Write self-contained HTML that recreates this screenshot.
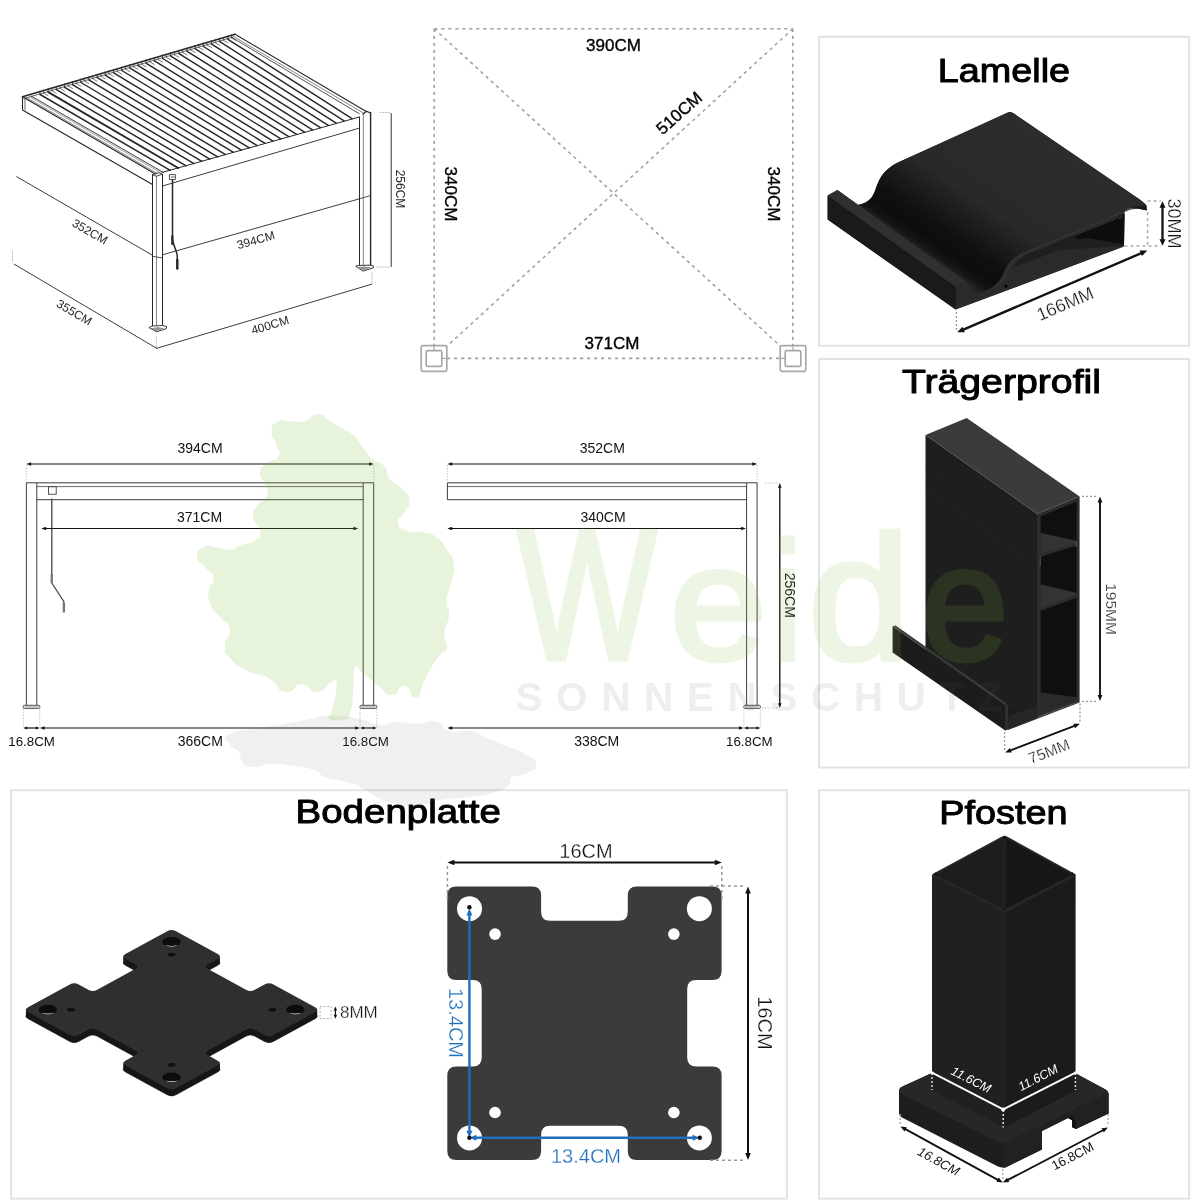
<!DOCTYPE html>
<html lang="de"><head><meta charset="utf-8">
<style>
html,body{margin:0;padding:0;background:#fff;}
body{width:1200px;height:1200px;overflow:hidden;font-family:"Liberation Sans",sans-serif;}
svg{display:block;will-change:transform;}
svg text{font-family:"Liberation Sans",sans-serif;}
</style></head><body>
<svg width="1200" height="1200" viewBox="0 0 1200 1200">
<rect width="1200" height="1200" fill="#fff"/>
<g id="pergola3d" stroke-linecap="round" stroke-linejoin="round">
<line x1="16.7" y1="176.7" x2="155" y2="256.7" stroke="#2a2624" stroke-width="0.9" />
<line x1="14.2" y1="264.2" x2="156.7" y2="348.3" stroke="#2a2624" stroke-width="0.9" />
<line x1="156.7" y1="348.3" x2="371.7" y2="284.2" stroke="#2a2624" stroke-width="0.9" />
<line x1="162.5" y1="254.8" x2="370" y2="195.8" stroke="#2a2624" stroke-width="0.9" />
<line x1="12.5" y1="251" x2="12.5" y2="262" stroke="#aaa" stroke-width="0.8" stroke-dasharray="1.2 1.6"/>
<line x1="156.3" y1="337" x2="156.3" y2="347" stroke="#aaa" stroke-width="0.8" stroke-dasharray="1.2 1.6"/>
<line x1="372" y1="273" x2="372" y2="283" stroke="#aaa" stroke-width="0.8" stroke-dasharray="1.2 1.6"/>
<line x1="377" y1="267" x2="389" y2="267" stroke="#aaa" stroke-width="0.8" stroke-dasharray="1.2 1.6"/>
<line x1="380" y1="112.5" x2="390" y2="112.5" stroke="#aaa" stroke-width="0.8" stroke-dasharray="1.2 1.6"/>
<line x1="391.2" y1="113.5" x2="391.2" y2="266.5" stroke="#2a2624" stroke-width="0.95" />
<polygon points="22.5,96.7 235,34.2 366.7,111.7 366.7,124 162.5,186 152.5,185 22.5,110" fill="#fff" stroke="none" stroke-width="0" />
<line x1="40.1" y1="94.5" x2="170.3" y2="170.3" stroke="#2a2624" stroke-width="1.45" />
<line x1="39.9" y1="91.1" x2="39.9" y2="94.5" stroke="#2a2624" stroke-width="0.8" />
<line x1="43.5" y1="90.1" x2="43.7" y2="93.1" stroke="#5a5450" stroke-width="0.7" />
<line x1="43.7" y1="93.1" x2="48.1" y2="95.7" stroke="#5a5450" stroke-width="0.8" />
<line x1="48.27" y1="92.1" x2="178.2" y2="168.05" stroke="#2a2624" stroke-width="1.9" />
<line x1="48.07" y1="88.7" x2="48.07" y2="92.1" stroke="#2a2624" stroke-width="0.8" />
<line x1="51.67" y1="87.7" x2="51.87" y2="90.7" stroke="#5a5450" stroke-width="0.7" />
<line x1="51.87" y1="90.7" x2="56.27" y2="93.3" stroke="#5a5450" stroke-width="0.8" />
<line x1="56.44" y1="89.7" x2="186.1" y2="165.8" stroke="#2a2624" stroke-width="1.45" />
<line x1="56.24" y1="86.3" x2="56.24" y2="89.7" stroke="#2a2624" stroke-width="0.8" />
<line x1="59.84" y1="85.3" x2="60.04" y2="88.3" stroke="#5a5450" stroke-width="0.7" />
<line x1="60.04" y1="88.3" x2="64.44" y2="90.9" stroke="#5a5450" stroke-width="0.8" />
<line x1="64.61" y1="87.3" x2="194" y2="163.56" stroke="#2a2624" stroke-width="1.45" />
<line x1="64.41" y1="83.9" x2="64.41" y2="87.3" stroke="#2a2624" stroke-width="0.8" />
<line x1="68.01" y1="82.9" x2="68.21" y2="85.9" stroke="#5a5450" stroke-width="0.7" />
<line x1="68.21" y1="85.9" x2="72.61" y2="88.5" stroke="#5a5450" stroke-width="0.8" />
<line x1="72.78" y1="84.9" x2="201.9" y2="161.31" stroke="#2a2624" stroke-width="1.45" />
<line x1="72.58" y1="81.5" x2="72.58" y2="84.9" stroke="#2a2624" stroke-width="0.8" />
<line x1="76.18" y1="80.5" x2="76.38" y2="83.5" stroke="#5a5450" stroke-width="0.7" />
<line x1="76.38" y1="83.5" x2="80.78" y2="86.1" stroke="#5a5450" stroke-width="0.8" />
<line x1="80.95" y1="82.5" x2="209.8" y2="159.06" stroke="#2a2624" stroke-width="1.45" />
<line x1="80.75" y1="79.1" x2="80.75" y2="82.5" stroke="#2a2624" stroke-width="0.8" />
<line x1="84.35" y1="78.1" x2="84.55" y2="81.1" stroke="#5a5450" stroke-width="0.7" />
<line x1="84.55" y1="81.1" x2="88.95" y2="83.7" stroke="#5a5450" stroke-width="0.8" />
<line x1="89.12" y1="80.1" x2="217.7" y2="156.81" stroke="#2a2624" stroke-width="1.45" />
<line x1="88.92" y1="76.7" x2="88.92" y2="80.1" stroke="#2a2624" stroke-width="0.8" />
<line x1="92.52" y1="75.7" x2="92.72" y2="78.7" stroke="#5a5450" stroke-width="0.7" />
<line x1="92.72" y1="78.7" x2="97.12" y2="81.3" stroke="#5a5450" stroke-width="0.8" />
<line x1="97.29" y1="77.7" x2="225.6" y2="154.57" stroke="#2a2624" stroke-width="1.45" />
<line x1="97.09" y1="74.3" x2="97.09" y2="77.7" stroke="#2a2624" stroke-width="0.8" />
<line x1="100.69" y1="73.3" x2="100.89" y2="76.3" stroke="#5a5450" stroke-width="0.7" />
<line x1="100.89" y1="76.3" x2="105.29" y2="78.9" stroke="#5a5450" stroke-width="0.8" />
<line x1="105.46" y1="75.3" x2="233.5" y2="152.32" stroke="#2a2624" stroke-width="1.45" />
<line x1="105.26" y1="71.9" x2="105.26" y2="75.3" stroke="#2a2624" stroke-width="0.8" />
<line x1="108.86" y1="70.9" x2="109.06" y2="73.9" stroke="#5a5450" stroke-width="0.7" />
<line x1="109.06" y1="73.9" x2="113.46" y2="76.5" stroke="#5a5450" stroke-width="0.8" />
<line x1="113.63" y1="72.9" x2="241.4" y2="150.07" stroke="#2a2624" stroke-width="1.45" />
<line x1="113.43" y1="69.5" x2="113.43" y2="72.9" stroke="#2a2624" stroke-width="0.8" />
<line x1="117.03" y1="68.5" x2="117.23" y2="71.5" stroke="#5a5450" stroke-width="0.7" />
<line x1="117.23" y1="71.5" x2="121.63" y2="74.1" stroke="#5a5450" stroke-width="0.8" />
<line x1="121.8" y1="70.5" x2="249.3" y2="147.82" stroke="#2a2624" stroke-width="1.45" />
<line x1="121.6" y1="67.1" x2="121.6" y2="70.5" stroke="#2a2624" stroke-width="0.8" />
<line x1="125.2" y1="66.1" x2="125.4" y2="69.1" stroke="#5a5450" stroke-width="0.7" />
<line x1="125.4" y1="69.1" x2="129.8" y2="71.7" stroke="#5a5450" stroke-width="0.8" />
<line x1="129.97" y1="68.1" x2="257.2" y2="145.57" stroke="#2a2624" stroke-width="1.45" />
<line x1="129.77" y1="64.7" x2="129.77" y2="68.1" stroke="#2a2624" stroke-width="0.8" />
<line x1="133.37" y1="63.7" x2="133.57" y2="66.7" stroke="#5a5450" stroke-width="0.7" />
<line x1="133.57" y1="66.7" x2="137.97" y2="69.3" stroke="#5a5450" stroke-width="0.8" />
<line x1="138.13" y1="65.7" x2="265.1" y2="143.33" stroke="#2a2624" stroke-width="1.45" />
<line x1="137.93" y1="62.3" x2="137.93" y2="65.7" stroke="#2a2624" stroke-width="0.8" />
<line x1="141.53" y1="61.3" x2="141.73" y2="64.3" stroke="#5a5450" stroke-width="0.7" />
<line x1="141.73" y1="64.3" x2="146.13" y2="66.9" stroke="#5a5450" stroke-width="0.8" />
<line x1="146.3" y1="63.3" x2="273" y2="141.08" stroke="#2a2624" stroke-width="1.45" />
<line x1="146.1" y1="59.9" x2="146.1" y2="63.3" stroke="#2a2624" stroke-width="0.8" />
<line x1="149.7" y1="58.9" x2="149.9" y2="61.9" stroke="#5a5450" stroke-width="0.7" />
<line x1="149.9" y1="61.9" x2="154.3" y2="64.5" stroke="#5a5450" stroke-width="0.8" />
<line x1="154.47" y1="60.9" x2="280.9" y2="138.83" stroke="#2a2624" stroke-width="1.45" />
<line x1="154.27" y1="57.5" x2="154.27" y2="60.9" stroke="#2a2624" stroke-width="0.8" />
<line x1="157.87" y1="56.5" x2="158.07" y2="59.5" stroke="#5a5450" stroke-width="0.7" />
<line x1="158.07" y1="59.5" x2="162.47" y2="62.1" stroke="#5a5450" stroke-width="0.8" />
<line x1="162.64" y1="58.5" x2="288.8" y2="136.58" stroke="#2a2624" stroke-width="1.45" />
<line x1="162.44" y1="55.1" x2="162.44" y2="58.5" stroke="#2a2624" stroke-width="0.8" />
<line x1="166.04" y1="54.1" x2="166.24" y2="57.1" stroke="#5a5450" stroke-width="0.7" />
<line x1="166.24" y1="57.1" x2="170.64" y2="59.7" stroke="#5a5450" stroke-width="0.8" />
<line x1="170.81" y1="56.1" x2="296.7" y2="134.33" stroke="#2a2624" stroke-width="1.45" />
<line x1="170.61" y1="52.7" x2="170.61" y2="56.1" stroke="#2a2624" stroke-width="0.8" />
<line x1="174.21" y1="51.7" x2="174.41" y2="54.7" stroke="#5a5450" stroke-width="0.7" />
<line x1="174.41" y1="54.7" x2="178.81" y2="57.3" stroke="#5a5450" stroke-width="0.8" />
<line x1="178.98" y1="53.7" x2="304.6" y2="132.09" stroke="#2a2624" stroke-width="1.45" />
<line x1="178.78" y1="50.3" x2="178.78" y2="53.7" stroke="#2a2624" stroke-width="0.8" />
<line x1="182.38" y1="49.3" x2="182.58" y2="52.3" stroke="#5a5450" stroke-width="0.7" />
<line x1="182.58" y1="52.3" x2="186.98" y2="54.9" stroke="#5a5450" stroke-width="0.8" />
<line x1="187.15" y1="51.3" x2="312.5" y2="129.84" stroke="#2a2624" stroke-width="1.45" />
<line x1="186.95" y1="47.9" x2="186.95" y2="51.3" stroke="#2a2624" stroke-width="0.8" />
<line x1="190.55" y1="46.9" x2="190.75" y2="49.9" stroke="#5a5450" stroke-width="0.7" />
<line x1="190.75" y1="49.9" x2="195.15" y2="52.5" stroke="#5a5450" stroke-width="0.8" />
<line x1="195.32" y1="48.9" x2="320.4" y2="127.59" stroke="#2a2624" stroke-width="1.45" />
<line x1="195.12" y1="45.5" x2="195.12" y2="48.9" stroke="#2a2624" stroke-width="0.8" />
<line x1="198.72" y1="44.5" x2="198.92" y2="47.5" stroke="#5a5450" stroke-width="0.7" />
<line x1="198.92" y1="47.5" x2="203.32" y2="50.1" stroke="#5a5450" stroke-width="0.8" />
<line x1="203.49" y1="46.5" x2="328.3" y2="125.34" stroke="#2a2624" stroke-width="1.45" />
<line x1="203.29" y1="43.1" x2="203.29" y2="46.5" stroke="#2a2624" stroke-width="0.8" />
<line x1="206.89" y1="42.1" x2="207.09" y2="45.1" stroke="#5a5450" stroke-width="0.7" />
<line x1="207.09" y1="45.1" x2="211.49" y2="47.7" stroke="#5a5450" stroke-width="0.8" />
<line x1="211.66" y1="44.1" x2="336.2" y2="123.1" stroke="#2a2624" stroke-width="1.45" />
<line x1="211.46" y1="40.7" x2="211.46" y2="44.1" stroke="#2a2624" stroke-width="0.8" />
<line x1="215.06" y1="39.7" x2="215.26" y2="42.7" stroke="#5a5450" stroke-width="0.7" />
<line x1="215.26" y1="42.7" x2="219.66" y2="45.3" stroke="#5a5450" stroke-width="0.8" />
<line x1="219.83" y1="41.7" x2="344.1" y2="120.85" stroke="#2a2624" stroke-width="1.45" />
<line x1="219.63" y1="38.3" x2="219.63" y2="41.7" stroke="#2a2624" stroke-width="0.8" />
<line x1="223.23" y1="37.3" x2="223.43" y2="40.3" stroke="#5a5450" stroke-width="0.7" />
<line x1="223.43" y1="40.3" x2="227.83" y2="42.9" stroke="#5a5450" stroke-width="0.8" />
<line x1="228" y1="39.3" x2="352" y2="118.6" stroke="#2a2624" stroke-width="1.45" />
<line x1="227.8" y1="35.9" x2="227.8" y2="39.3" stroke="#2a2624" stroke-width="0.8" />
<line x1="231.4" y1="34.9" x2="231.6" y2="37.9" stroke="#5a5450" stroke-width="0.7" />
<line x1="231.6" y1="37.9" x2="236" y2="40.5" stroke="#5a5450" stroke-width="0.8" />
<line x1="31.5" y1="96.2" x2="163.5" y2="172.6" stroke="#2a2624" stroke-width="0.9" />
<polyline points="22.5,96.7 235,34.2" fill="none" stroke="#2a2624" stroke-width="1.6" />
<polyline points="24,98.6 233,37" fill="none" stroke="#2a2624" stroke-width="0.7" />
<polyline points="22.5,96.7 22.5,110 152.5,184.5" fill="none" stroke="#2a2624" stroke-width="1.1" />
<polyline points="22.5,96.7 155.8,174.2" fill="none" stroke="#2a2624" stroke-width="1.1" />
<polyline points="26,97.3 158.5,174.2" fill="none" stroke="#6a6460" stroke-width="0.8" />
<polyline points="25,98.5 25,109.5" fill="none" stroke="#2a2624" stroke-width="0.7" />
<polyline points="29,96.4 161.5,173.2" fill="none" stroke="#8a8480" stroke-width="0.8" />
<polyline points="235,34.2 366.7,111.7" fill="none" stroke="#2a2624" stroke-width="1.1" />
<polyline points="233.5,36.5 363.5,113" fill="none" stroke="#6a6460" stroke-width="0.8" />
<polyline points="231.5,37.2 360.5,114.5" fill="none" stroke="#2a2624" stroke-width="0.8" />
<polyline points="162.5,172.3 360,116.8" fill="none" stroke="#2a2624" stroke-width="1.0" />
<polyline points="162.5,186 359,128.2" fill="none" stroke="#2a2624" stroke-width="0.9" />
<rect x="152.5" y="174.5" width="10" height="154" fill="#fff" stroke="none"/>
<polyline points="152.5,174.5 152.5,328.3" fill="none" stroke="#2a2624" stroke-width="1.0" />
<polyline points="162.5,174.5 162.5,328.3" fill="none" stroke="#2a2624" stroke-width="1.0" />
<polyline points="156.5,176 156.5,328.3" fill="none" stroke="#6a6460" stroke-width="0.8" />
<polyline points="152.5,174.8 156.3,176.3 162.5,174.2 158.6,172.6 152.5,174.8" fill="none" stroke="#2a2624" stroke-width="0.8" />
<rect x="359.5" y="113" width="11" height="153" fill="#fff" stroke="none"/>
<polyline points="359.5,117 359.5,266.5" fill="none" stroke="#2a2624" stroke-width="1.0" />
<polyline points="370.6,112.5 370.6,266.5" fill="none" stroke="#2a2624" stroke-width="1.4" />
<polyline points="363.3,114 363.3,267" fill="none" stroke="#6a6460" stroke-width="0.8" />
<polyline points="363,114 366.5,111.2 370,112.8" fill="none" stroke="#2a2624" stroke-width="1.2" />
<line x1="152.5" y1="256.3" x2="162.5" y2="258" stroke="#2a2624" stroke-width="0.8" />
<line x1="359.3" y1="198.8" x2="370" y2="195.8" stroke="#2a2624" stroke-width="0.8" />
<polygon points="149.3,327.8 156.5,331.8 166.5,328.6 166.5,326.5 162.5,325.5 152.5,326" fill="#fff" stroke="#2a2624" stroke-width="0.9" />
<polygon points="150.5,328.3 156.5,331.2 164.5,328.6 158,327" fill="#9a9590" stroke="none" stroke-width="0" />
<polygon points="356,266.4 363,271.2 373.4,267.8 373.4,266 370.6,265.2 359.5,265.4" fill="#fff" stroke="#2a2624" stroke-width="0.9" />
<polygon points="357.5,267 363,270.4 371.5,267.6 365,266.4" fill="#9a9590" stroke="none" stroke-width="0" />
<rect x="169.8" y="174.6" width="5.6" height="5" fill="#fff" stroke="#2a2624" stroke-width="0.8"/>
<line x1="171" y1="177" x2="174.5" y2="177" stroke="#2a2624" stroke-width="0.7" />
<path d="M172.5 179.8 L172.5 238 C172.5 246 177.3 250 177.3 257 L177.3 268.5" fill="none" stroke="#2a2624" stroke-width="1.5"/>
<line x1="172.3" y1="236" x2="172.3" y2="244" stroke="#2a2624" stroke-width="2.2" />
<line x1="177.3" y1="260" x2="177.3" y2="268.5" stroke="#2a2624" stroke-width="2.4" />
<text font-size="12" fill="#2a2624" font-weight="normal" text-anchor="middle" transform="translate(90 231.5) rotate(30)" x="0" y="4.2" >352CM</text>
<text font-size="12" fill="#2a2624" font-weight="normal" text-anchor="middle" transform="translate(74.3 312.3) rotate(30.5)" x="0" y="4.2" >355CM</text>
<text font-size="12" fill="#2a2624" font-weight="normal" text-anchor="middle" transform="translate(255.8 240) rotate(-16)" x="0" y="4.2" >394CM</text>
<text font-size="12" fill="#2a2624" font-weight="normal" text-anchor="middle" transform="translate(270 325) rotate(-16.6)" x="0" y="4.2" >400CM</text>
<text font-size="12" fill="#2a2624" font-weight="normal" text-anchor="middle" transform="translate(400.5 189) rotate(90)" x="0" y="4.2" >256CM</text>
</g>
<g id="plan">
<line x1="434.2" y1="28.8" x2="792.8" y2="28.8" stroke="#a2a2a2" stroke-width="1.6" stroke-dasharray="3.3 3.7"/>
<line x1="434.2" y1="28.8" x2="434.2" y2="346" stroke="#a2a2a2" stroke-width="1.6" stroke-dasharray="3.3 3.7"/>
<line x1="792.8" y1="28.8" x2="792.8" y2="346" stroke="#a2a2a2" stroke-width="1.6" stroke-dasharray="3.3 3.7"/>
<line x1="447" y1="358.4" x2="780" y2="358.4" stroke="#a2a2a2" stroke-width="1.6" stroke-dasharray="3.3 3.7"/>
<line x1="434.2" y1="28.8" x2="783" y2="348.5" stroke="#a2a2a2" stroke-width="1.6" stroke-dasharray="3.3 3.7"/>
<line x1="792.8" y1="28.8" x2="444.5" y2="348.5" stroke="#a2a2a2" stroke-width="1.6" stroke-dasharray="3.3 3.7"/>
<rect x="421.2" y="345.7" width="25.6" height="25.6" rx="1.6" fill="#fff" stroke="#a8a8a8" stroke-width="1.7"/>
<rect x="426.2" y="350.7" width="15.6" height="15.6" rx="1.4" fill="#fff" stroke="#a8a8a8" stroke-width="1.7"/>
<line x1="434" y1="346" x2="434" y2="350.5" stroke="#9a9a9a" stroke-width="1.0" />
<rect x="780.2" y="345.7" width="25.6" height="25.6" rx="1.6" fill="#fff" stroke="#a8a8a8" stroke-width="1.7"/>
<rect x="785.2" y="350.7" width="15.6" height="15.6" rx="1.4" fill="#fff" stroke="#a8a8a8" stroke-width="1.7"/>
<line x1="793" y1="346" x2="793" y2="350.5" stroke="#9a9a9a" stroke-width="1.0" />
<line x1="441.5" y1="358.4" x2="446" y2="358.4" stroke="#9a9a9a" stroke-width="1.0" />
<line x1="780.5" y1="358.4" x2="785" y2="358.4" stroke="#9a9a9a" stroke-width="1.0" />
<text x="613.5" y="50.8" font-size="17" fill="#000" font-weight="normal" text-anchor="middle" stroke="#000" stroke-width="0.35">390CM</text>
<text x="612" y="349.3" font-size="17" fill="#000" font-weight="normal" text-anchor="middle" stroke="#000" stroke-width="0.35">371CM</text>
<text font-size="17" fill="#000" font-weight="normal" text-anchor="middle" transform="translate(451 194) rotate(90)" x="0" y="5.95" stroke="#000" stroke-width="0.35">340CM</text>
<text font-size="17" fill="#000" font-weight="normal" text-anchor="middle" transform="translate(773.5 194) rotate(90)" x="0" y="5.95" stroke="#000" stroke-width="0.35">340CM</text>
<text font-size="17" fill="#000" font-weight="normal" text-anchor="middle" transform="translate(679 113) rotate(-41.5)" x="0" y="5.95" stroke="#000" stroke-width="0.35">510CM</text>
</g>
<g id="elev">
<line x1="26.3" y1="482.8" x2="373.8" y2="482.8" stroke="#2a2624" stroke-width="0.9" />
<line x1="36.8" y1="499.7" x2="363.2" y2="499.7" stroke="#2a2624" stroke-width="0.9" />
<line x1="36.8" y1="486.6" x2="363" y2="486.6" stroke="#2a2624" stroke-width="0.7" />
<line x1="26.4" y1="482.8" x2="26.4" y2="705.3" stroke="#2a2624" stroke-width="0.9" />
<line x1="36.8" y1="482.8" x2="36.8" y2="705.3" stroke="#2a2624" stroke-width="0.9" />
<line x1="363.2" y1="482.8" x2="363.2" y2="705.3" stroke="#2a2624" stroke-width="0.9" />
<line x1="373.7" y1="482.8" x2="373.7" y2="705.3" stroke="#2a2624" stroke-width="0.9" />
<rect x="23.2" y="705.3" width="16.6" height="3.1" rx="1" fill="#fff" stroke="#2a2624" stroke-width="0.8"/>
<rect x="360" y="705.3" width="16.8" height="3.1" rx="1" fill="#fff" stroke="#2a2624" stroke-width="0.8"/>
<line x1="24.4" y1="706.9" x2="38.6" y2="706.9" stroke="#999" stroke-width="1.0" />
<line x1="361.2" y1="706.9" x2="375.6" y2="706.9" stroke="#999" stroke-width="1.0" />
<rect x="48.6" y="486.8" width="7.6" height="7.4" fill="#fff" stroke="#2a2624" stroke-width="0.8"/>
<path d="M51.8 498.5 L51.8 583 L63.8 601.5 L63.8 612.3" fill="none" stroke="#4a4644" stroke-width="1.3" stroke-linejoin="round"/>
<line x1="51.7" y1="574" x2="51.7" y2="583" stroke="#777" stroke-width="2.2" />
<line x1="63.9" y1="603" x2="63.9" y2="612.3" stroke="#777" stroke-width="2.4" />
<line x1="29.18" y1="464" x2="370.92" y2="464" stroke="#111" stroke-width="1.2" />
<polygon points="26.3,464 31.1,462.27 31.1,465.73" fill="#111" stroke="none" stroke-width="0" />
<polygon points="373.8,464 369,465.73 369,462.27" fill="#111" stroke="none" stroke-width="0" />
<line x1="44.18" y1="528.5" x2="355.32" y2="528.5" stroke="#111" stroke-width="1.2" />
<polygon points="41.3,528.5 46.1,526.77 46.1,530.23" fill="#111" stroke="none" stroke-width="0" />
<polygon points="358.2,528.5 353.4,530.23 353.4,526.77" fill="#111" stroke="none" stroke-width="0" />
<line x1="25.6" y1="728" x2="37.4" y2="728" stroke="#111" stroke-width="1.2" />
<polygon points="23.2,728 27.2,726.56 27.2,729.44" fill="#111" stroke="none" stroke-width="0" />
<polygon points="39.8,728 35.8,729.44 35.8,726.56" fill="#111" stroke="none" stroke-width="0" />
<line x1="42.68" y1="728" x2="357.12" y2="728" stroke="#111" stroke-width="1.2" />
<polygon points="39.8,728 44.6,726.27 44.6,729.73" fill="#111" stroke="none" stroke-width="0" />
<polygon points="360,728 355.2,729.73 355.2,726.27" fill="#111" stroke="none" stroke-width="0" />
<line x1="362.4" y1="728" x2="374.4" y2="728" stroke="#111" stroke-width="1.2" />
<polygon points="360,728 364,726.56 364,729.44" fill="#111" stroke="none" stroke-width="0" />
<polygon points="376.8,728 372.8,729.44 372.8,726.56" fill="#111" stroke="none" stroke-width="0" />
<line x1="26.3" y1="465" x2="26.3" y2="482" stroke="#aaa" stroke-width="0.8" stroke-dasharray="1.2 1.6"/>
<line x1="373.8" y1="465" x2="373.8" y2="482" stroke="#aaa" stroke-width="0.8" stroke-dasharray="1.2 1.6"/>
<line x1="23.4" y1="709.5" x2="23.4" y2="727" stroke="#aaa" stroke-width="0.8" stroke-dasharray="1.2 1.6"/>
<line x1="39.7" y1="709.5" x2="39.7" y2="727" stroke="#aaa" stroke-width="0.8" stroke-dasharray="1.2 1.6"/>
<line x1="360" y1="709.5" x2="360" y2="727" stroke="#aaa" stroke-width="0.8" stroke-dasharray="1.2 1.6"/>
<line x1="376.8" y1="709.5" x2="376.8" y2="727" stroke="#aaa" stroke-width="0.8" stroke-dasharray="1.2 1.6"/>
<text x="200" y="453.4" font-size="14" fill="#111" font-weight="normal" text-anchor="middle" >394CM</text>
<text x="199.5" y="521.6" font-size="14" fill="#111" font-weight="normal" text-anchor="middle" >371CM</text>
<text x="31.6" y="746.2" font-size="13.3" fill="#111" font-weight="normal" text-anchor="middle" >16.8CM</text>
<text x="200.3" y="746.2" font-size="14" fill="#111" font-weight="normal" text-anchor="middle" >366CM</text>
<text x="365.6" y="746.2" font-size="13.3" fill="#111" font-weight="normal" text-anchor="middle" >16.8CM</text>
<path d="M746.6 482.8 L447.4 482.8 L447.4 499.7 L746.6 499.7" fill="none" stroke="#2a2624" stroke-width="0.9"/>
<line x1="447.4" y1="486.6" x2="746.5" y2="486.6" stroke="#2a2624" stroke-width="0.7" />
<path d="M746.6 705.3 L746.6 482.8 L757.1 482.8 L757.1 705.3" fill="none" stroke="#2a2624" stroke-width="0.9"/>
<rect x="743.8" y="705.3" width="16.6" height="3.1" rx="1" fill="#fff" stroke="#2a2624" stroke-width="0.8"/>
<line x1="745" y1="706.9" x2="759.2" y2="706.9" stroke="#999" stroke-width="1.0" />
<line x1="450.28" y1="464" x2="754.32" y2="464" stroke="#111" stroke-width="1.2" />
<polygon points="447.4,464 452.2,462.27 452.2,465.73" fill="#111" stroke="none" stroke-width="0" />
<polygon points="757.2,464 752.4,465.73 752.4,462.27" fill="#111" stroke="none" stroke-width="0" />
<line x1="450.28" y1="528.5" x2="743.12" y2="528.5" stroke="#111" stroke-width="1.2" />
<polygon points="447.4,528.5 452.2,526.77 452.2,530.23" fill="#111" stroke="none" stroke-width="0" />
<polygon points="746,528.5 741.2,530.23 741.2,526.77" fill="#111" stroke="none" stroke-width="0" />
<line x1="450.28" y1="728" x2="740.92" y2="728" stroke="#111" stroke-width="1.2" />
<polygon points="447.4,728 452.2,726.27 452.2,729.73" fill="#111" stroke="none" stroke-width="0" />
<polygon points="743.8,728 739,729.73 739,726.27" fill="#111" stroke="none" stroke-width="0" />
<line x1="746.2" y1="728" x2="758" y2="728" stroke="#111" stroke-width="1.2" />
<polygon points="743.8,728 747.8,726.56 747.8,729.44" fill="#111" stroke="none" stroke-width="0" />
<polygon points="760.4,728 756.4,729.44 756.4,726.56" fill="#111" stroke="none" stroke-width="0" />
<line x1="779.8" y1="485.88" x2="779.8" y2="705.12" stroke="#111" stroke-width="1.35" />
<polygon points="779.8,483 781.55,487.8 778.05,487.8" fill="#111" stroke="none" stroke-width="0" />
<polygon points="779.8,708 778.05,703.2 781.55,703.2" fill="#111" stroke="none" stroke-width="0" />
<line x1="447.4" y1="465" x2="447.4" y2="482" stroke="#aaa" stroke-width="0.8" stroke-dasharray="1.2 1.6"/>
<line x1="757.2" y1="465" x2="757.2" y2="482" stroke="#aaa" stroke-width="0.8" stroke-dasharray="1.2 1.6"/>
<line x1="765" y1="483" x2="779" y2="483" stroke="#aaa" stroke-width="0.8" stroke-dasharray="1.2 1.6"/>
<line x1="762" y1="708" x2="779" y2="708" stroke="#aaa" stroke-width="0.8" stroke-dasharray="1.2 1.6"/>
<line x1="743.9" y1="709.5" x2="743.9" y2="727" stroke="#aaa" stroke-width="0.8" stroke-dasharray="1.2 1.6"/>
<line x1="760.3" y1="709.5" x2="760.3" y2="727" stroke="#aaa" stroke-width="0.8" stroke-dasharray="1.2 1.6"/>
<text x="602.3" y="453.4" font-size="14" fill="#111" font-weight="normal" text-anchor="middle" >352CM</text>
<text x="603" y="521.6" font-size="14" fill="#111" font-weight="normal" text-anchor="middle" >340CM</text>
<text x="596.7" y="746.2" font-size="14" fill="#111" font-weight="normal" text-anchor="middle" >338CM</text>
<text x="749.3" y="746.2" font-size="13.3" fill="#111" font-weight="normal" text-anchor="middle" >16.8CM</text>
<text font-size="14" fill="#111" font-weight="normal" text-anchor="middle" transform="translate(790.2 595.3) rotate(90)" x="0" y="4.9" >256CM</text>
</g>
<rect x="819" y="36.8" width="370.2" height="309" fill="#fff" stroke="#e3e3e3" stroke-width="2"/>
<g id="lamelle">
<text x="937.8" y="81.8" font-size="33.5" fill="#000" stroke="#000" stroke-width="1" stroke-linejoin="round" textLength="132.23" lengthAdjust="spacingAndGlyphs">Lamelle</text>
<defs><linearGradient id="lamTop" gradientUnits="userSpaceOnUse" x1="966" y1="281.8" x2="1059.7" y2="146"><stop offset="0" stop-color="#222"/><stop offset="0.04" stop-color="#131313"/><stop offset="0.09" stop-color="#0d0d0d"/><stop offset="0.18" stop-color="#101010"/><stop offset="0.32" stop-color="#1d1d1d"/><stop offset="0.45" stop-color="#292929"/><stop offset="1" stop-color="#2c2c2c"/></linearGradient></defs>
<path d="M837.5 190 L827.6 195.5 L827.6 219.5 L955.6 309.6 L1124 246.4 L1124.6 211 L1130 206.5 L1146.8 210.6 L1146.3 205.2 C1144 203 1142 201 1139 199 L1013.5 113.2 C1011.5 112 1009.5 111.8 1007.5 112.6 L899 162 C886 168 880 176 876 188 C873 197 870 201 863 203.5 L858 205 Z" fill="#2a2a2a"/>
<path d="M1021 258.5 C1024 256.5 1027 255 1030 253.8 L1116 219.5 L1119 214.5 L1124.6 214 L1124 244.4 L1087 238 L1079.5 239.8 L1072 236 Z" fill="#0d0d0d"/>
<path d="M1021 258.5 L1072 236 L1079.5 239.8 L1087 238 L1124 244.4 L1124 246 L1060 250 L1012 268 C1014 264 1017 261 1021 258.5 Z" fill="#1f1f1f"/>
<path d="M1010 112.2 L899 162 C886 168 880 176 876 188 C873 197 870 201 863 203.5 L858 205 L847 197 L966 281.8 L975 292 C979 293.5 983 292 988 289.5 C996 285.5 1001 280 1004.5 271 C1008 262 1014 256 1024 252 L1130 208.5 L1146.3 205.2 C1144 203 1142 201 1139 199 L1013.5 113.2 Z" fill="url(#lamTop)"/>
<path d="M1146.6 207 L1131 208.8 L1026 252.8 C1016 257 1010 263 1006.5 272 C1003.5 280 999 285.5 990 290" fill="none" stroke="#383838" stroke-width="1.2"/>
<path d="M1130 207 L1146.8 210.6 L1146.3 205.2 Z" fill="#1a1a1a"/>
<path d="M837.5 190 L827.6 195.5 L956.5 287.5 L966 281.8 Z" fill="#303030"/>
<path d="M827.6 195.5 L827.6 219.5 L955.6 309.6 L956.5 287.5 Z" fill="#1a1a1a"/>
<path d="M956.5 287.5 C958 284 962 282 966 281.8 L975 292 C979 293.5 983 292 988 289.5 L1124 246.4 L955.6 309.6 Z" fill="#2b2b2b"/>
<circle cx="1119.8" cy="216.4" r="2.3" fill="#1c1c1c" stroke="#3c3c3c" stroke-width="0.7"/>
<circle cx="1005.8" cy="286.2" r="1.7" fill="#060606"/>
<line x1="961.06" y1="330.64" x2="1143.34" y2="252.26" stroke="#111" stroke-width="2.4" />
<polygon points="957.2,332.3 962.45,326.78 964.82,332.29" fill="#111" stroke="none" stroke-width="0" />
<polygon points="1147.2,250.6 1141.95,256.12 1139.58,250.61" fill="#111" stroke="none" stroke-width="0" />
<line x1="956.4" y1="312" x2="956.4" y2="331" stroke="#999" stroke-width="1.3" stroke-dasharray="2 2"/>
<path d="M1147.6 212 L1147.6 245.8 M1124.5 246 L1161 246 M1147.6 201 L1161 201" fill="none" stroke="#aaa" stroke-width="1.5" stroke-dasharray="3 3"/>
<line x1="1162.5" y1="205.1" x2="1162.5" y2="241.9" stroke="#111" stroke-width="2.3" />
<polygon points="1162.5,201.2 1165.5,207.7 1159.5,207.7" fill="#111" stroke="none" stroke-width="0" />
<polygon points="1162.5,245.8 1159.5,239.3 1165.5,239.3" fill="#111" stroke="none" stroke-width="0" />
<text font-size="18" fill="#111" font-weight="normal" text-anchor="middle" transform="translate(1174.5 223.5) rotate(90)" x="0" y="6.3" stroke="#fff" stroke-width="0.28">30MM</text>
<text font-size="18" fill="#111" font-weight="normal" text-anchor="middle" transform="translate(1065 303.5) rotate(-23.2)" x="0" y="6.3" stroke="#fff" stroke-width="0.28">166MM</text>
</g>
<rect x="819" y="359" width="370.2" height="408.6" fill="#fff" stroke="#e3e3e3" stroke-width="2"/>
<g id="traeger">
<text x="901.9" y="392.6" font-size="33.5" fill="#000" stroke="#000" stroke-width="1" stroke-linejoin="round" textLength="199.15" lengthAdjust="spacingAndGlyphs">Trägerprofil</text>
<polygon points="925.5,435 1037,513.8 1037,717.6 1008,716.5 925.5,658" fill="#1e1e1e" stroke="none" stroke-width="0" />
<polygon points="925.5,435 966.7,418 1079.6,496.4 1037,513.8" fill="#3b3b3b" stroke="none" stroke-width="0" />
<line x1="925.5" y1="466" x2="1037" y2="545" stroke="#232323" stroke-width="0.8" />
<line x1="925.5" y1="488" x2="1037" y2="567" stroke="#242424" stroke-width="0.8" />
<polygon points="1037,513.8 1079.6,496.4 1079.6,701.2 1037,717.6" fill="#2c2c2c" stroke="none" stroke-width="0" />
<polygon points="1040.6,516.2 1076.6,501.6 1076.6,541 1040.6,533" fill="#0f0f0f" stroke="none" stroke-width="0" />
<polygon points="1040.6,533 1076.6,541 1076.6,543 1040.6,553.8" fill="#333" stroke="none" stroke-width="0" />
<polygon points="1040.6,556.8 1076.6,545.5 1076.6,593 1040.6,584.5" fill="#0f0f0f" stroke="none" stroke-width="0" />
<polygon points="1040.6,584.5 1076.6,593 1076.6,594.6 1040.6,607.6" fill="#333" stroke="none" stroke-width="0" />
<polygon points="1040.6,610.8 1076.6,597.8 1076.6,697.4 1040.6,692.5" fill="#0f0f0f" stroke="none" stroke-width="0" />
<polygon points="1040.6,692.5 1076.6,697.4 1076.6,699.8 1040.6,713.6" fill="#2a2a2a" stroke="none" stroke-width="0" />
<line x1="1040.2" y1="556" x2="1040.2" y2="566" stroke="#555" stroke-width="0.9" />
<line x1="1076.2" y1="541" x2="1076.2" y2="547" stroke="#555" stroke-width="0.9" />
<polygon points="892.6,626.2 1005.2,705.2 1037,716 1037,718 1079.6,701.2 1079.6,701.6 1010,728.8 1005.2,730.4 892.6,652.6" fill="#1c1c1c" stroke="none" stroke-width="0" />
<polygon points="892.6,626.2 895.6,625.4 1008,704.4 1005.2,705.2" fill="#3a3a3a" stroke="none" stroke-width="0" />
<polygon points="1005.2,705.2 1008,704.4 1008,728.6 1005.2,730.4" fill="#303030" stroke="none" stroke-width="0" />
<polygon points="1008,716.5 1037,705.5 1037,717.6 1008,728.6" fill="#262626" stroke="none" stroke-width="0" />
<polygon points="1008,728.8 1079.6,701.2 1079.6,702.4 1008,730" fill="#333" stroke="none" stroke-width="0" />
<line x1="1100" y1="500.1" x2="1100" y2="697.4" stroke="#111" stroke-width="1.9" />
<polygon points="1100,496.5 1102.4,502.5 1097.6,502.5" fill="#111" stroke="none" stroke-width="0" />
<polygon points="1100,701 1097.6,695 1102.4,695" fill="#111" stroke="none" stroke-width="0" />
<line x1="1082" y1="496.4" x2="1098" y2="496.4" stroke="#999" stroke-width="1.3" stroke-dasharray="2 2"/>
<line x1="1082" y1="701.4" x2="1098" y2="701.4" stroke="#999" stroke-width="1.3" stroke-dasharray="2 2"/>
<line x1="1080" y1="703.5" x2="1080" y2="723" stroke="#999" stroke-width="1.3" stroke-dasharray="2 2"/>
<line x1="1004.6" y1="732" x2="1004.6" y2="752" stroke="#999" stroke-width="1.3" stroke-dasharray="2 2"/>
<line x1="1008.56" y1="751.11" x2="1076.44" y2="725.09" stroke="#111" stroke-width="1.9" />
<polygon points="1005.2,752.4 1009.94,748.01 1011.66,752.49" fill="#111" stroke="none" stroke-width="0" />
<polygon points="1079.8,723.8 1075.06,728.19 1073.34,723.71" fill="#111" stroke="none" stroke-width="0" />
<text font-size="15.5" fill="#111" font-weight="normal" text-anchor="middle" transform="translate(1111.5 609) rotate(90)" x="0" y="5.42" stroke="#fff" stroke-width="0.28">195MM</text>
<text font-size="15.5" fill="#111" font-weight="normal" text-anchor="middle" transform="translate(1049 751.3) rotate(-21)" x="0" y="5.42" stroke="#fff" stroke-width="0.28">75MM</text>
</g>
<rect x="819" y="790.2" width="370.2" height="408.4" fill="#fff" stroke="#e3e3e3" stroke-width="2"/>
<g id="pfosten">
<text x="939.2" y="823.5" font-size="33.5" fill="#000" stroke="#000" stroke-width="1" stroke-linejoin="round" textLength="128.31" lengthAdjust="spacingAndGlyphs">Pfosten</text>
<path d="M899 1091 C899 1089 900 1087.7 902 1086.8 L933 1072.6 L1074 1072.6 L1105.5 1089.5 C1107.8 1090.8 1108.6 1092 1108.6 1094.5 L1108.6 1113.5 L1076 1129 L1072 1127 L1072 1120 L1068 1118 L1042 1131 L1042 1149.5 L1008 1166.3 C1004.5 1168 1001 1168 997.5 1166.3 L902 1117.5 C899.8 1116.3 899 1115 899 1112.5 Z" fill="#1d1d1d"/>
<path d="M902 1086.8 L933 1072.6 L1074 1072.6 L1105.5 1089.5 C1108 1091 1108 1093.6 1105.5 1095 L1009 1141.6 C1005 1143.4 1001 1143.4 997 1141.6 L902 1094.2 C898.6 1092.2 898.6 1088.5 902 1086.8 Z" fill="#272727"/>
<path d="M1003 1143.4 L1108.6 1093 L1108.6 1113.5 L1076 1129 L1072 1127 L1072 1120 L1068 1118 L1042 1131 L1042 1149.5 L1008 1166.3 C1006 1167.3 1004.5 1167.8 1003 1167.8 Z" fill="#212121"/>
<path d="M1068 1118 L1072 1120 L1072 1127 L1076 1129 L1076 1122 L1072.5 1116 Z" fill="#111"/>
<polygon points="932,874.5 1004.5,911.5 1004.5,1127.5 932,1090.5" fill="#202020" stroke="none" stroke-width="0" />
<polygon points="1004.5,911.5 1075.6,874.5 1075.6,1090.5 1004.5,1127.5" fill="#1b1b1b" stroke="none" stroke-width="0" />
<path d="M932 876 Q932 874.5 933.5 873.6 L1002.5 836.2 Q1004.5 835.2 1006.5 836.2 L1074.2 873.6 Q1075.6 874.5 1075.6 876 L1004.5 913 Z" fill="#262626"/>
<polygon points="935.6,874.5 1004.5,837.6 1072,874.5 1004.5,909.2" fill="#1d1d1d" stroke="none" stroke-width="0" />
<polygon points="1004.5,837.6 1072,874.5 1004.5,909.2" fill="#171717" stroke="none" stroke-width="0" />
<line x1="1004.5" y1="839" x2="1004.5" y2="905" stroke="#262626" stroke-width="1.6" />
<circle cx="1004.5" cy="838.2" r="1.9" fill="#101010" stroke="#333" stroke-width="0.7"/>
<circle cx="936.2" cy="874.4" r="1.9" fill="#101010" stroke="#333" stroke-width="0.7"/>
<circle cx="1071.8" cy="874.4" r="1.9" fill="#101010" stroke="#333" stroke-width="0.7"/>
<circle cx="1004.5" cy="908.6" r="1.9" fill="#101010" stroke="#333" stroke-width="0.7"/>
<line x1="1004.5" y1="912" x2="1004.5" y2="1110" stroke="#242424" stroke-width="1.6" />
<path d="M932 1072.6 L1003.2 1109.4 L1075.6 1072.6" fill="none" stroke="#fff" stroke-width="1.9" stroke-linejoin="round"/>
<line x1="932" y1="1073" x2="932" y2="1090" stroke="#e8e8e8" stroke-width="1.4" stroke-dasharray="2 2"/>
<line x1="1003.2" y1="1110" x2="1003.2" y2="1127.5" stroke="#e8e8e8" stroke-width="1.4" stroke-dasharray="2 2"/>
<line x1="1075.4" y1="1073" x2="1075.4" y2="1090" stroke="#e8e8e8" stroke-width="1.4" stroke-dasharray="2 2"/>
<circle cx="1003.2" cy="1109.4" r="2" fill="#fff"/><circle cx="932" cy="1072.8" r="1.6" fill="#fff"/><circle cx="1075.6" cy="1072.8" r="1.6" fill="#fff"/>
<text font-size="12.5" fill="#fff" font-weight="normal" text-anchor="middle" transform="translate(971.2 1079.6) rotate(27)" x="0" y="4.38" font-style="italic">11.6CM</text>
<text font-size="12.5" fill="#fff" font-weight="normal" text-anchor="middle" transform="translate(1038 1077.6) rotate(-27)" x="0" y="4.38" font-style="italic">11.6CM</text>
<line x1="903.56" y1="1128.13" x2="999.64" y2="1180.87" stroke="#111" stroke-width="1.9" />
<polygon points="900.4,1126.4 906.81,1127.18 904.51,1131.39" fill="#111" stroke="none" stroke-width="0" />
<polygon points="1002.8,1182.6 996.39,1181.82 998.69,1177.61" fill="#111" stroke="none" stroke-width="0" />
<line x1="1005.99" y1="1180.93" x2="1104.81" y2="1129.27" stroke="#111" stroke-width="1.9" />
<polygon points="1002.8,1182.6 1007.01,1177.69 1009.23,1181.95" fill="#111" stroke="none" stroke-width="0" />
<polygon points="1108,1127.6 1103.79,1132.51 1101.57,1128.25" fill="#111" stroke="none" stroke-width="0" />
<line x1="900.2" y1="1114" x2="900.2" y2="1125" stroke="#aaa" stroke-width="1.3" stroke-dasharray="2 2"/>
<line x1="1002.8" y1="1169" x2="1002.8" y2="1181" stroke="#aaa" stroke-width="1.3" stroke-dasharray="2 2"/>
<line x1="1108" y1="1114" x2="1108" y2="1126" stroke="#aaa" stroke-width="1.3" stroke-dasharray="2 2"/>
<text font-size="13" fill="#111" font-weight="normal" text-anchor="middle" transform="translate(938.8 1161.2) rotate(28.5)" x="0" y="4.55" font-style="italic">16.8CM</text>
<text font-size="13" fill="#111" font-weight="normal" text-anchor="middle" transform="translate(1072.5 1156) rotate(-27.5)" x="0" y="4.55" >16.8CM</text>
</g>
<rect x="11.2" y="790.2" width="775.6" height="408.4" fill="#fff" stroke="#e3e3e3" stroke-width="2"/>
<g id="boden">
<text x="295.6" y="823.2" font-size="33.5" fill="#000" stroke="#000" stroke-width="1" stroke-linejoin="round" textLength="205.23" lengthAdjust="spacingAndGlyphs">Bodenplatte</text>
<path d="M167.16 937.63 Q171.6 935.2 176.04 937.63 L217.78 960.47 Q222.22 962.9 217.78 965.33 L208.08 970.64 Q203.64 973.07 208.08 975.5 L245.97 996.23 Q250.41 998.66 254.85 996.23 L264.54 990.93 Q268.98 988.5 273.42 990.93 L315.16 1013.77 Q319.6 1016.2 315.16 1018.63 L273.42 1041.47 Q268.98 1043.9 264.54 1041.47 L254.85 1036.17 Q250.41 1033.74 245.97 1036.17 L208.08 1056.9 Q203.64 1059.33 208.08 1061.76 L217.78 1067.07 Q222.22 1069.5 217.78 1071.93 L176.04 1094.77 Q171.6 1097.2 167.16 1094.77 L125.42 1071.93 Q120.98 1069.5 125.42 1067.07 L135.12 1061.76 Q139.56 1059.33 135.12 1056.9 L97.23 1036.17 Q92.79 1033.74 88.35 1036.17 L78.66 1041.47 Q74.22 1043.9 69.78 1041.47 L28.04 1018.63 Q23.6 1016.2 28.04 1013.77 L69.78 990.93 Q74.22 988.5 78.66 990.93 L88.35 996.23 Q92.79 998.66 97.23 996.23 L135.12 975.5 Q139.56 973.07 135.12 970.64 L125.42 965.33 Q120.98 962.9 125.42 960.47 Z" fill="#161616" stroke="#161616" stroke-width="0.6"/>
<path d="M167.16 932.51 Q171.6 930.08 176.04 932.51 L217.78 955.35 Q222.22 957.78 217.78 960.21 L208.08 965.52 Q203.64 967.95 208.08 970.38 L245.97 991.11 Q250.41 993.54 254.85 991.11 L264.54 985.81 Q268.98 983.38 273.42 985.81 L315.16 1008.65 Q319.6 1011.08 315.16 1013.51 L273.42 1036.35 Q268.98 1038.78 264.54 1036.35 L254.85 1031.05 Q250.41 1028.62 245.97 1031.05 L208.08 1051.78 Q203.64 1054.21 208.08 1056.64 L217.78 1061.95 Q222.22 1064.38 217.78 1066.81 L176.04 1089.65 Q171.6 1092.08 167.16 1089.65 L125.42 1066.81 Q120.98 1064.38 125.42 1061.95 L135.12 1056.64 Q139.56 1054.21 135.12 1051.78 L97.23 1031.05 Q92.79 1028.62 88.35 1031.05 L78.66 1036.35 Q74.22 1038.78 69.78 1036.35 L28.04 1013.51 Q23.6 1011.08 28.04 1008.65 L69.78 985.81 Q74.22 983.38 78.66 985.81 L88.35 991.11 Q92.79 993.54 97.23 991.11 L135.12 970.38 Q139.56 967.95 135.12 965.52 L125.42 960.21 Q120.98 957.78 125.42 955.35 Z" fill="#161616"/>
<path d="M167.16 933.79 Q171.6 931.36 176.04 933.79 L217.78 956.63 Q222.22 959.06 217.78 961.49 L208.08 966.8 Q203.64 969.23 208.08 971.66 L245.97 992.39 Q250.41 994.82 254.85 992.39 L264.54 987.09 Q268.98 984.66 273.42 987.09 L315.16 1009.93 Q319.6 1012.36 315.16 1014.79 L273.42 1037.63 Q268.98 1040.06 264.54 1037.63 L254.85 1032.33 Q250.41 1029.9 245.97 1032.33 L208.08 1053.06 Q203.64 1055.49 208.08 1057.92 L217.78 1063.23 Q222.22 1065.66 217.78 1068.09 L176.04 1090.93 Q171.6 1093.36 167.16 1090.93 L125.42 1068.09 Q120.98 1065.66 125.42 1063.23 L135.12 1057.92 Q139.56 1055.49 135.12 1053.06 L97.23 1032.33 Q92.79 1029.9 88.35 1032.33 L78.66 1037.63 Q74.22 1040.06 69.78 1037.63 L28.04 1014.79 Q23.6 1012.36 28.04 1009.93 L69.78 987.09 Q74.22 984.66 78.66 987.09 L88.35 992.39 Q92.79 994.82 97.23 992.39 L135.12 971.66 Q139.56 969.23 135.12 966.8 L125.42 961.49 Q120.98 959.06 125.42 956.63 Z" fill="#161616"/>
<path d="M167.16 935.07 Q171.6 932.64 176.04 935.07 L217.78 957.91 Q222.22 960.34 217.78 962.77 L208.08 968.08 Q203.64 970.51 208.08 972.94 L245.97 993.67 Q250.41 996.1 254.85 993.67 L264.54 988.37 Q268.98 985.94 273.42 988.37 L315.16 1011.21 Q319.6 1013.64 315.16 1016.07 L273.42 1038.91 Q268.98 1041.34 264.54 1038.91 L254.85 1033.61 Q250.41 1031.18 245.97 1033.61 L208.08 1054.34 Q203.64 1056.77 208.08 1059.2 L217.78 1064.51 Q222.22 1066.94 217.78 1069.37 L176.04 1092.21 Q171.6 1094.64 167.16 1092.21 L125.42 1069.37 Q120.98 1066.94 125.42 1064.51 L135.12 1059.2 Q139.56 1056.77 135.12 1054.34 L97.23 1033.61 Q92.79 1031.18 88.35 1033.61 L78.66 1038.91 Q74.22 1041.34 69.78 1038.91 L28.04 1016.07 Q23.6 1013.64 28.04 1011.21 L69.78 988.37 Q74.22 985.94 78.66 988.37 L88.35 993.67 Q92.79 996.1 97.23 993.67 L135.12 972.94 Q139.56 970.51 135.12 968.08 L125.42 962.77 Q120.98 960.34 125.42 957.91 Z" fill="#161616"/>
<path d="M167.16 936.35 Q171.6 933.92 176.04 936.35 L217.78 959.19 Q222.22 961.62 217.78 964.05 L208.08 969.36 Q203.64 971.79 208.08 974.22 L245.97 994.95 Q250.41 997.38 254.85 994.95 L264.54 989.65 Q268.98 987.22 273.42 989.65 L315.16 1012.49 Q319.6 1014.92 315.16 1017.35 L273.42 1040.19 Q268.98 1042.62 264.54 1040.19 L254.85 1034.89 Q250.41 1032.46 245.97 1034.89 L208.08 1055.62 Q203.64 1058.05 208.08 1060.48 L217.78 1065.79 Q222.22 1068.22 217.78 1070.65 L176.04 1093.49 Q171.6 1095.92 167.16 1093.49 L125.42 1070.65 Q120.98 1068.22 125.42 1065.79 L135.12 1060.48 Q139.56 1058.05 135.12 1055.62 L97.23 1034.89 Q92.79 1032.46 88.35 1034.89 L78.66 1040.19 Q74.22 1042.62 69.78 1040.19 L28.04 1017.35 Q23.6 1014.92 28.04 1012.49 L69.78 989.65 Q74.22 987.22 78.66 989.65 L88.35 994.95 Q92.79 997.38 97.23 994.95 L135.12 974.22 Q139.56 971.79 135.12 969.36 L125.42 964.05 Q120.98 961.62 125.42 959.19 Z" fill="#161616"/>
<path d="M167.16 931.23 Q171.6 928.8 176.04 931.23 L217.78 954.07 Q222.22 956.5 217.78 958.93 L208.08 964.24 Q203.64 966.67 208.08 969.1 L245.97 989.83 Q250.41 992.26 254.85 989.83 L264.54 984.53 Q268.98 982.1 273.42 984.53 L315.16 1007.37 Q319.6 1009.8 315.16 1012.23 L273.42 1035.07 Q268.98 1037.5 264.54 1035.07 L254.85 1029.77 Q250.41 1027.34 245.97 1029.77 L208.08 1050.5 Q203.64 1052.93 208.08 1055.36 L217.78 1060.67 Q222.22 1063.1 217.78 1065.53 L176.04 1088.37 Q171.6 1090.8 167.16 1088.37 L125.42 1065.53 Q120.98 1063.1 125.42 1060.67 L135.12 1055.36 Q139.56 1052.93 135.12 1050.5 L97.23 1029.77 Q92.79 1027.34 88.35 1029.77 L78.66 1035.07 Q74.22 1037.5 69.78 1035.07 L28.04 1012.23 Q23.6 1009.8 28.04 1007.37 L69.78 984.53 Q74.22 982.1 78.66 984.53 L88.35 989.83 Q92.79 992.26 97.23 989.83 L135.12 969.1 Q139.56 966.67 135.12 964.24 L125.42 958.93 Q120.98 956.5 125.42 954.07 Z" fill="#2f2f2f"/>
<ellipse cx="171.6" cy="942.08" rx="9.14" ry="5" fill="#0c0c0c"/>
<path d="M164.75 945.08 Q171.6 948.48 178.45 945.08 Q171.6 946.68 164.75 945.08 Z" fill="#c8c8c8"/>
<ellipse cx="295.33" cy="1009.8" rx="9.14" ry="5" fill="#0c0c0c"/>
<path d="M288.48 1012.8 Q295.33 1016.2 302.18 1012.8 Q295.33 1014.4 288.48 1012.8 Z" fill="#c8c8c8"/>
<ellipse cx="171.6" cy="1077.52" rx="9.14" ry="5" fill="#0c0c0c"/>
<path d="M164.75 1080.52 Q171.6 1083.92 178.45 1080.52 Q171.6 1082.12 164.75 1080.52 Z" fill="#c8c8c8"/>
<ellipse cx="47.87" cy="1009.8" rx="9.14" ry="5" fill="#0c0c0c"/>
<path d="M41.02 1012.8 Q47.87 1016.2 54.72 1012.8 Q47.87 1014.4 41.02 1012.8 Z" fill="#c8c8c8"/>
<ellipse cx="171.6" cy="954.72" rx="4.4" ry="2.41" fill="#111" stroke="#444" stroke-width="0.5"/>
<ellipse cx="272.24" cy="1009.8" rx="4.4" ry="2.41" fill="#111" stroke="#444" stroke-width="0.5"/>
<ellipse cx="171.6" cy="1064.88" rx="4.4" ry="2.41" fill="#111" stroke="#444" stroke-width="0.5"/>
<ellipse cx="70.96" cy="1009.8" rx="4.4" ry="2.41" fill="#111" stroke="#444" stroke-width="0.5"/>
<rect x="320" y="1006.6" width="11" height="12" fill="none" stroke="#aaa" stroke-width="1" stroke-dasharray="1.8 1.8"/>
<line x1="335.4" y1="1009" x2="335.4" y2="1016.4" stroke="#111" stroke-width="1.2" />
<polygon points="335.4,1006.6 337.1,1010.6 333.7,1010.6" fill="#111" stroke="none" stroke-width="0" />
<polygon points="335.4,1018.8 333.7,1014.8 337.1,1014.8" fill="#111" stroke="none" stroke-width="0" />
<text x="340" y="1018.2" font-size="17" fill="#111" font-weight="normal" text-anchor="start" stroke="#fff" stroke-width="0.28">8MM</text>
<path d="M447.3 895.53 Q447.3 886.5 456.35 886.5 L532.06 886.5 Q541.11 886.5 541.11 895.53 L541.11 911.81 Q541.11 920.84 550.16 920.84 L618.74 920.84 Q627.79 920.84 627.79 911.81 L627.79 895.53 Q627.79 886.5 636.84 886.5 L712.55 886.5 Q721.6 886.5 721.6 895.53 L721.6 971.04 Q721.6 980.07 712.55 980.07 L696.23 980.07 Q687.18 980.07 687.18 989.1 L687.18 1057.5 Q687.18 1066.53 696.23 1066.53 L712.55 1066.53 Q721.6 1066.53 721.6 1075.56 L721.6 1151.07 Q721.6 1160.1 712.55 1160.1 L636.84 1160.1 Q627.79 1160.1 627.79 1151.07 L627.79 1134.79 Q627.79 1125.76 618.74 1125.76 L550.16 1125.76 Q541.11 1125.76 541.11 1134.79 L541.11 1151.07 Q541.11 1160.1 532.06 1160.1 L456.35 1160.1 Q447.3 1160.1 447.3 1151.07 L447.3 1075.56 Q447.3 1066.53 456.35 1066.53 L472.67 1066.53 Q481.72 1066.53 481.72 1057.5 L481.72 989.1 Q481.72 980.07 472.67 980.07 L456.35 980.07 Q447.3 980.07 447.3 971.04 Z" fill="#3b3b3b"/>
<circle cx="469.52" cy="908.66" r="12.5" fill="#fff"/>
<circle cx="699.38" cy="908.66" r="12.5" fill="#fff"/>
<circle cx="699.38" cy="1137.94" r="12.5" fill="#fff"/>
<circle cx="469.52" cy="1137.94" r="12.5" fill="#fff"/>
<circle cx="495.03" cy="934.11" r="5.8" fill="#fff"/>
<circle cx="673.87" cy="934.11" r="5.8" fill="#fff"/>
<circle cx="673.87" cy="1112.49" r="5.8" fill="#fff"/>
<circle cx="495.03" cy="1112.49" r="5.8" fill="#fff"/>
<line x1="451.6" y1="862.5" x2="717.6" y2="862.5" stroke="#111" stroke-width="2" />
<polygon points="447.4,862.5 454.4,859.7 454.4,865.3" fill="#111" stroke="none" stroke-width="0" />
<polygon points="721.8,862.5 714.8,865.3 714.8,859.7" fill="#111" stroke="none" stroke-width="0" />
<line x1="748" y1="890.6" x2="748" y2="1155.8" stroke="#111" stroke-width="2" />
<polygon points="748,886.4 750.8,893.4 745.2,893.4" fill="#111" stroke="none" stroke-width="0" />
<polygon points="748,1160 745.2,1153 750.8,1153" fill="#111" stroke="none" stroke-width="0" />
<line x1="447.4" y1="866" x2="447.4" y2="899" stroke="#999" stroke-width="1.5" stroke-dasharray="3 3"/>
<line x1="721.8" y1="866" x2="721.8" y2="899" stroke="#999" stroke-width="1.5" stroke-dasharray="3 3"/>
<line x1="710" y1="886" x2="746" y2="886" stroke="#999" stroke-width="1.5" stroke-dasharray="3 3"/>
<line x1="710" y1="1160.2" x2="746" y2="1160.2" stroke="#999" stroke-width="1.5" stroke-dasharray="3 3"/>
<line x1="469.4" y1="912.8" x2="469.4" y2="1133.6" stroke="#1f6fbe" stroke-width="2.4" />
<polygon points="469.4,908.6 472.4,915.6 466.4,915.6" fill="#1f6fbe" stroke="none" stroke-width="0" />
<polygon points="469.4,1137.8 466.4,1130.8 472.4,1130.8" fill="#1f6fbe" stroke="none" stroke-width="0" />
<line x1="473.6" y1="1137.8" x2="695.4" y2="1137.8" stroke="#1f6fbe" stroke-width="2.4" />
<polygon points="469.4,1137.8 476.4,1134.8 476.4,1140.8" fill="#1f6fbe" stroke="none" stroke-width="0" />
<polygon points="699.6,1137.8 692.6,1140.8 692.6,1134.8" fill="#1f6fbe" stroke="none" stroke-width="0" />
<circle cx="469.4" cy="907.2" r="2.2" fill="#111"/>
<circle cx="469.4" cy="1137.8" r="2.2" fill="#111"/>
<circle cx="699.8" cy="1137.8" r="2.2" fill="#111"/>
<text x="586" y="857.6" font-size="20" fill="#111" font-weight="normal" text-anchor="middle" stroke="#fff" stroke-width="0.28">16CM</text>
<text font-size="20" fill="#111" font-weight="normal" text-anchor="middle" transform="translate(764.6 1023) rotate(90)" x="0" y="7" stroke="#fff" stroke-width="0.28">16CM</text>
<text font-size="20" fill="#1f6fbe" font-weight="normal" text-anchor="middle" transform="translate(456.2 1023) rotate(90)" x="0" y="7" stroke="#fff" stroke-width="0.28">13.4CM</text>
<text x="586" y="1163.4" font-size="20" fill="#1f6fbe" font-weight="normal" text-anchor="middle" stroke="#fff" stroke-width="0.28">13.4CM</text>
</g>
<g id="watermark">
<path d="M230 734 C240 728.5 241 731.5 260 728 C279 724.5 270 726.5 287 723.5 C304 720.5 297 721.5 311 719 C325 716.5 313 716 329 716 C345 716 342 716 359 719 C376 722 368 724 380 725 C392 726 383 722.5 395 722 C407 721.5 402 723.5 416 723.5 C430 723.5 426 719.5 437 722 C448 724.5 438 728 449 731 C460 734 457 728.5 470 731 C483 733.5 476 733.5 488 738.5 C500 743.5 494 741 506 746 C518 751 514 747.5 524 753.5 C534 759.5 535 757.5 536 764 C537 770.5 535 768.5 527 773 C519 777.5 518 773.5 512 777.5 C506 781.5 515 780 509 785 C503 790 507 788.5 494 792.5 C481 796.5 488 794.5 470 797 C452 799.5 455 797.5 440 800 C425 802.5 435 802.5 425 804.5 C415 806.5 421 806.5 410 806 C399 805.5 403 806 392 803 C381 800 387 802 377 797 C367 792 372 793 362 788 C352 783 359 785.5 347 782 C335 778.5 337 781.5 326 777.5 C315 773.5 326 774 314 770 C302 766 304 767.5 290 765.5 C276 763.5 285 763.5 272 764 C259 764.5 261 768 251 767 C241 766 246 766 242 761 C238 756 243 757.5 239 752 C235 746.5 233 750.5 230 744.5 C227 738.5 220 739.5 230 734 Z" fill="#6e6e6e" fill-opacity="0.105"/>
<path d="M318.3 414.3 C326.87 414.3 322.2 416.63 330 421.3 C337.8 425.97 333.93 423.63 341.7 428.3 C349.47 432.97 346.3 429.07 353.3 435.3 C360.3 441.53 356.47 439.2 362.7 447 C368.93 454.8 365 452.47 372 458.7 C379 464.93 377.47 458.7 383.7 465.7 C389.93 472.7 384.5 471.93 390.7 479.7 C396.9 487.47 396.1 482 402.3 489 C408.5 496 408.5 492.93 409.3 500.7 C410.1 508.47 408.57 505.3 404.7 512.3 C400.83 519.3 396.93 515.47 397.7 521.7 C398.47 527.93 398.47 527.5 407 531 C415.53 534.5 413.2 529.87 423.3 532.2 C433.4 534.53 429.5 532.17 437.3 538 C445.1 543.83 441.23 541.13 446.7 549.7 C452.17 558.27 452.17 552.83 453.7 563.7 C455.23 574.57 453.63 569.87 451.3 582.3 C448.97 594.73 447.47 590.1 446.7 601 C445.93 611.9 449.8 604.1 449 615 C448.2 625.9 445.07 622.8 444.3 633.7 C443.53 644.6 448.13 640.6 446.7 647.7 C445.27 654.8 445.23 648.23 440 655 C434.77 661.77 436.5 658.67 431 668 C425.5 677.33 428.5 673 423.5 683 C418.5 693 422.5 697 416 698 C409.5 699 412 687 404 686 C396 685 401 695.5 392 695 C383 694.5 387 692 377 684.5 C367 677 369.33 678 362 672.5 C354.67 667 358 660.5 355 668 C352 675.5 354.67 680 353 695 C351.33 710 352.33 705 350 713 C347.67 721 353.33 717.17 346 719 C338.67 720.83 332.67 721.5 328 718.5 C323.33 715.5 329.17 720.83 332 710 C334.83 699.17 336.5 695.5 336.5 686 C336.5 676.5 338.5 679.5 332 681.5 C325.5 683.5 327 691 317 692 C307 693 312.5 684.5 302 684.5 C291.5 684.5 296.5 694 285.5 692 C274.5 690 281.5 685.5 269 678.5 C256.5 671.5 261 677.83 248 671 C235 664.17 237.67 666.57 230 658 C222.33 649.43 225.1 654.97 225 645.3 C224.9 635.63 231.27 638.33 229.7 629 C228.13 619.67 226.53 625.07 220.3 617.3 C214.07 609.53 214.87 614.23 211 605.7 C207.13 597.17 207.93 601.03 208.7 591.7 C209.47 582.37 214.1 585.5 213.3 577.7 C212.5 569.9 211.73 575.3 206.3 568.3 C200.87 561.3 197.77 563.7 197 556.7 C196.23 549.7 197.77 550.43 204 547.3 C210.23 544.17 207.13 546.5 215.7 547.3 C224.27 548.1 221.17 550.47 229.7 549.7 C238.23 548.93 232.77 548.13 241.3 545 C249.83 541.87 249.07 544.97 255.3 540.3 C261.53 535.63 260.77 538.77 260 531 C259.23 523.23 253.77 525.57 253 517 C252.23 508.43 253.03 512.3 257.7 505.3 C262.37 498.3 264.67 503 267 496 C269.33 489 267.03 492.07 264.7 484.3 C262.37 476.53 259.23 479.7 260 472.7 C260.77 465.7 260.77 468.77 267 463.3 C273.23 457.83 275.6 462.5 278.7 456.3 C281.8 450.1 278.63 453.23 276.3 444.7 C273.97 436.17 270.9 438.5 271.7 430.7 C272.5 422.9 272.5 424.43 278.7 421.3 C284.9 418.17 281.77 421.3 290.3 421.3 C298.83 421.3 294.97 423.63 304.3 421.3 C313.63 418.97 309.73 414.3 318.3 414.3 Z" fill="#80bd3a" fill-opacity="0.18"/>
<g opacity="0.135"><text y="658.5" fill="#80bd3a" stroke="#80bd3a" stroke-width="5" stroke-linejoin="round"><tspan x="517.5" font-size="185" textLength="139" lengthAdjust="spacingAndGlyphs">W</tspan><tspan x="670" font-size="163" textLength="96.8" lengthAdjust="spacingAndGlyphs">e</tspan><tspan x="771.5" font-size="167" textLength="30.8" lengthAdjust="spacingAndGlyphs">i</tspan><tspan x="808" font-size="177" textLength="102.6" lengthAdjust="spacingAndGlyphs">d</tspan><tspan x="921.5" font-size="163" textLength="86.8" lengthAdjust="spacingAndGlyphs">e</tspan></text></g>
<text x="515.5" y="711" font-size="40.5" font-weight="bold" fill="#555" fill-opacity="0.10" textLength="487" lengthAdjust="spacing">SONNENSCHUTZ</text>
</g>
</svg>
</body></html>
